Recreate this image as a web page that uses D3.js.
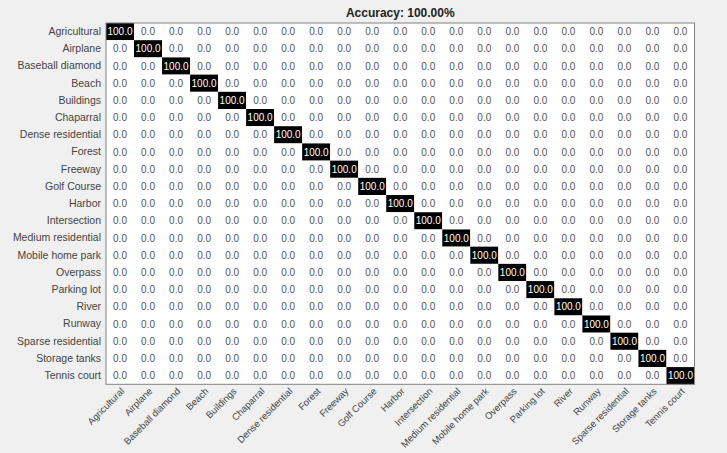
<!DOCTYPE html>
<html>
<head>
<meta charset="utf-8">
<script src="https://cdn.jsdelivr.net/npm/d3@7"></script>
<style>
  body { margin: 0; background: #f0f0f0; }
  svg { display: block; font-family: "Liberation Sans", Arial, sans-serif; }
</style>
</head>
<body>
<div class="chart"></div>
<script>
// DATA ------------------------------------

const classes = [
    'Agricultural', 'Airplane', 'Baseball diamond', 'Beach', 'Buildings',
    'Chaparral', 'Dense residential', 'Forest', 'Freeway', 'Golf Course',
    'Harbor', 'Intersection', 'Medium residential', 'Mobile home park',
    'Overpass', 'Parking lot', 'River', 'Runway', 'Sparse residential',
    'Storage tanks', 'Tennis court'
];

const accuracy = 100.00;

// percentages, one row per true class
const matrix = [
    [100,0,0,0,0,0,0,0,0,0,0,0,0,0,0,0,0,0,0,0,0],
    [0,100,0,0,0,0,0,0,0,0,0,0,0,0,0,0,0,0,0,0,0],
    [0,0,100,0,0,0,0,0,0,0,0,0,0,0,0,0,0,0,0,0,0],
    [0,0,0,100,0,0,0,0,0,0,0,0,0,0,0,0,0,0,0,0,0],
    [0,0,0,0,100,0,0,0,0,0,0,0,0,0,0,0,0,0,0,0,0],
    [0,0,0,0,0,100,0,0,0,0,0,0,0,0,0,0,0,0,0,0,0],
    [0,0,0,0,0,0,100,0,0,0,0,0,0,0,0,0,0,0,0,0,0],
    [0,0,0,0,0,0,0,100,0,0,0,0,0,0,0,0,0,0,0,0,0],
    [0,0,0,0,0,0,0,0,100,0,0,0,0,0,0,0,0,0,0,0,0],
    [0,0,0,0,0,0,0,0,0,100,0,0,0,0,0,0,0,0,0,0,0],
    [0,0,0,0,0,0,0,0,0,0,100,0,0,0,0,0,0,0,0,0,0],
    [0,0,0,0,0,0,0,0,0,0,0,100,0,0,0,0,0,0,0,0,0],
    [0,0,0,0,0,0,0,0,0,0,0,0,100,0,0,0,0,0,0,0,0],
    [0,0,0,0,0,0,0,0,0,0,0,0,0,100,0,0,0,0,0,0,0],
    [0,0,0,0,0,0,0,0,0,0,0,0,0,0,100,0,0,0,0,0,0],
    [0,0,0,0,0,0,0,0,0,0,0,0,0,0,0,100,0,0,0,0,0],
    [0,0,0,0,0,0,0,0,0,0,0,0,0,0,0,0,100,0,0,0,0],
    [0,0,0,0,0,0,0,0,0,0,0,0,0,0,0,0,0,100,0,0,0],
    [0,0,0,0,0,0,0,0,0,0,0,0,0,0,0,0,0,0,100,0,0],
    [0,0,0,0,0,0,0,0,0,0,0,0,0,0,0,0,0,0,0,100,0],
    [0,0,0,0,0,0,0,0,0,0,0,0,0,0,0,0,0,0,0,0,100]
];

// CHART INIT ------------------------------

const margin = {
        top: 23,
        right: 32.5,
        bottom: 68.7,
        left: 106
    },
    width = 727 - margin.left - margin.right,
    height = 453 - margin.top - margin.bottom;

let svg = d3
    .select('.chart')
    .append('svg')
    .attr('width', 727)
    .attr('height', 453);

const group = svg
    .append('g')
    .attr('transform', 'translate(' + margin.left + ',' + margin.top + ')');

const xScale = d3.scaleBand()
    .domain(classes)
    .range([0, width]);

const yScale = d3.scaleBand()
    .domain(classes)
    .range([0, height]);

const color = d3.scaleLinear()
    .domain([0, 100])
    .range(['#ffffff', '#000000']);

// flatten matrix to cells
const cells = [];
matrix.forEach((row, i) => {
    row.forEach((v, j) => {
        cells.push({ actual: classes[i], predicted: classes[j], value: v });
    });
});

group.append('rect')
    .attr('width', width)
    .attr('height', height)
    .attr('fill', '#fff');

group.selectAll('rect.cell')
    .data(cells)
    .enter()
    .append('rect')
    .attr('class', 'cell')
    .attr('x', d => xScale(d.predicted))
    .attr('y', d => yScale(d.actual))
    .attr('width', xScale.bandwidth())
    .attr('height', yScale.bandwidth())
    .attr('fill', d => color(d.value));

group.selectAll('text.val')
    .data(cells)
    .enter()
    .append('text')
    .attr('class', 'val')
    .attr('x', d => xScale(d.predicted) + xScale.bandwidth() / 2)
    .attr('y', d => yScale(d.actual) + yScale.bandwidth() / 2)
    .attr('dy', '0.36em')
    .attr('text-anchor', 'middle')
    .attr('font-size', 10)
    .attr('fill', d => d.value > 50 ? '#fff' : '#555')
    .text(d => d.value.toFixed(1));

// frame
group.append('rect')
    .attr('width', width)
    .attr('height', height)
    .attr('fill', 'none')
    .attr('stroke', '#808080')
    .attr('stroke-width', 1);

// axes
const yAxis = d3.axisLeft(yScale).tickSize(0).tickPadding(5);
const yDisplay = group.append('g').call(yAxis);
yDisplay.attr('font-family', null);
yDisplay.select('.domain').remove();
yDisplay.selectAll('text')
    .attr('font-size', 10.5)
    .attr('fill', '#444');

const xAxis = d3.axisBottom(xScale).tickSize(0).tickPadding(0);
const xDisplay = group.append('g')
    .attr('transform', `translate(0, ${height})`)
    .call(xAxis);
xDisplay.attr('font-family', null);
xDisplay.select('.domain').remove();
xDisplay.selectAll('text')
    .attr('font-size', 9.5)
    .attr('fill', '#444')
    .attr('text-anchor', 'end')
    .attr('y', 0)
    .attr('dy', 0)
    .attr('transform', 'translate(5, 7.5) rotate(-45)');

// title
svg.append('text')
    .attr('x', margin.left + width / 2)
    .attr('y', 17)
    .attr('text-anchor', 'middle')
    .attr('font-size', 12)
    .attr('font-weight', 'bold')
    .attr('fill', '#222')
    .text('Accuracy: ' + accuracy.toFixed(2) + '%');
</script>
</body>
</html>
